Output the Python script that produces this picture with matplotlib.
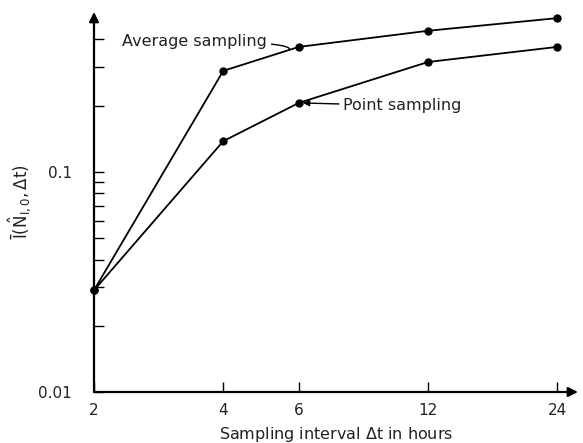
import numpy as np
import matplotlib
matplotlib.use("Agg")
import matplotlib.pyplot as plt
from matplotlib.ticker import FixedLocator, NullFormatter, FixedFormatter

# Data
intervals = [2, 4, 6, 12, 24]
avg_sampling = [0.029, 0.288, 0.37, 0.438, 0.50]
point_sampling = [0.029, 0.138, 0.206, 0.316, 0.37]
x_tick_labels = ["2", "4", "6", "12", "24"]
y_major = [0.01, 0.1]
y_major_labels = ["0.01", "0.1"]
y_minor = [0.02, 0.03, 0.04, 0.05, 0.06, 0.07, 0.08, 0.09, 0.2, 0.3, 0.4]

plt.rcParams['font.family'] = ['DejaVu Sans']
plt.rcParams['mathtext.fontset'] = 'dejavusans'
TXT = '#222222'

fig = plt.figure(figsize=(5.83, 4.43), dpi=100)
ax = fig.add_axes([94/583, 51/443, 484/583, 380/443])

ax.set_xscale('log', base=2)
ax.set_yscale('log')
ax.set_xlim(2, 26.8)
ax.set_ylim(0.01, 0.533)

ax.plot(intervals, avg_sampling, '-o', color='black', lw=1.3, ms=5, clip_on=False, zorder=3)
ax.plot(intervals, point_sampling, '-o', color='black', lw=1.3, ms=5, clip_on=False, zorder=3)

for s in ax.spines.values():
    s.set_visible(False)

# axis lines with arrows
ax.annotate('', xy=(1.0, 0), xytext=(0, 0), xycoords='axes fraction',
            arrowprops=dict(arrowstyle='-|>', lw=1.6, color='black', mutation_scale=14,
                            shrinkA=0, shrinkB=0))
ax.annotate('', xy=(0, 1.0), xytext=(0, 0), xycoords='axes fraction',
            arrowprops=dict(arrowstyle='-|>', lw=1.6, color='black', mutation_scale=14,
                            shrinkA=0, shrinkB=0))

ax.xaxis.set_major_locator(FixedLocator(intervals))
ax.xaxis.set_major_formatter(FixedFormatter(x_tick_labels))
ax.xaxis.set_minor_locator(FixedLocator([]))
ax.yaxis.set_major_locator(FixedLocator(y_major))
ax.yaxis.set_major_formatter(FixedFormatter(y_major_labels))
ax.yaxis.set_minor_locator(FixedLocator(y_minor))
ax.yaxis.set_minor_formatter(NullFormatter())

ax.tick_params(axis='both', which='both', direction='in', color='black', width=1.0,
               labelsize=11, labelcolor=TXT)
ax.tick_params(axis='x', which='major', length=7, pad=8)
ax.tick_params(axis='y', which='major', length=7, pad=16)
ax.tick_params(axis='y', which='minor', length=7)

ax.set_xlabel(r'Sampling interval $\Delta$t in hours', fontsize=11.5, color=TXT, labelpad=5)
ax.set_ylabel(r'$\bar{\mathrm{I}}(\hat{\mathrm{N}}_{\mathrm{I},0},\Delta\mathrm{t})$', fontsize=12,
              color=TXT, labelpad=3)

# annotations
def interp(x, xs, ys):
    lx = np.log2(xs); ly = np.log10(ys)
    return 10 ** np.interp(np.log2(x), lx, ly)

xa = 5.7
ax.annotate('Average sampling', xy=(xa, interp(xa, intervals, avg_sampling)),
            xytext=(2.33, 0.39), textcoords='data', fontsize=11.5, color=TXT,
            va='center', ha='left',
            arrowprops=dict(arrowstyle='-', lw=1.0, color='black',
                            connectionstyle='angle3,angleA=0,angleB=60',
                            shrinkA=1, shrinkB=0))
ax.annotate('Point sampling', xy=(intervals[2], point_sampling[2]),
            xytext=(7.6, 0.20), textcoords='data', fontsize=11.5, color=TXT,
            va='center', ha='left',
            arrowprops=dict(arrowstyle='-|>', lw=1.0, color='black', mutation_scale=9,
                            shrinkA=1, shrinkB=3))

fig.savefig('out.png', dpi=100)
